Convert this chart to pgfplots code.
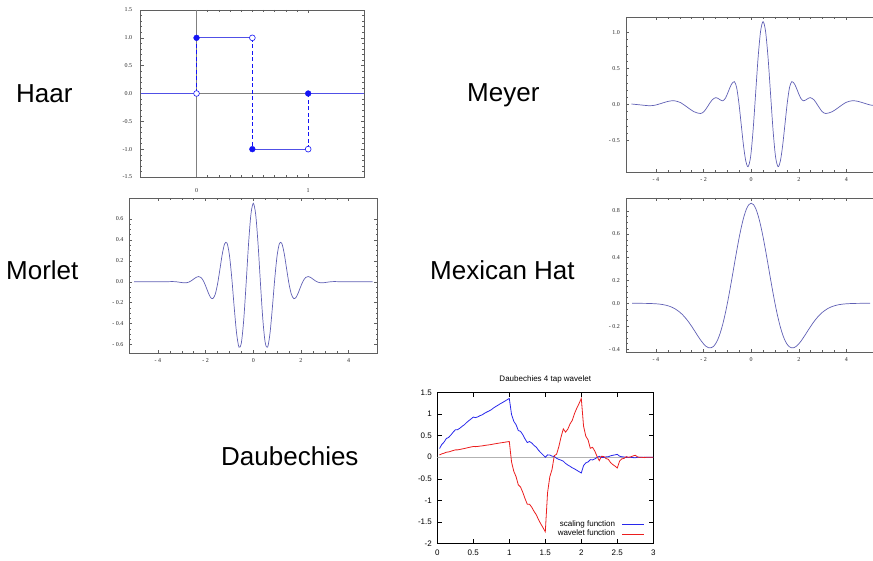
\documentclass[border=0pt]{standalone}
\usepackage{fontspec}
\setmainfont{Liberation Sans}
\newfontfamily\tickserif{Liberation Serif}
\usepackage{pgfplots}
\usepackage{pgfplotstable}
\pgfplotsset{compat=1.18}
\definecolor{mcolor}{RGB}{95,95,180}
\definecolor{hblue}{RGB}{20,20,245}
\definecolor{hline}{RGB}{80,80,230}
\definecolor{gpblue}{RGB}{40,40,235}
\definecolor{gpred}{RGB}{235,30,30}
\definecolor{framegray}{RGB}{95,95,95}

\pgfplotstableread{
x phi psi
0.03125 0.2029 0.0544
0.0625 0.297 0.0796
0.09375 0.3517 0.0942
0.125 0.435 0.1166
0.15625 0.4603 0.1233
0.1875 0.515 0.138
0.21875 0.5799 0.1554
0.25 0.637 0.1707
0.28125 0.6413 0.1718
0.3125 0.674 0.1806
0.34375 0.7178 0.1923
0.375 0.754 0.202
0.40625 0.8053 0.2158
0.4375 0.849 0.2276
0.46875 0.8903 0.2385
0.5 0.933 0.25
0.53125 0.9212 0.2468
0.5625 0.939 0.2515
0.59375 0.967 0.2592
0.625 0.987 0.2645
0.65625 1.0228 0.2741
0.6875 1.051 0.2817
0.71875 1.0763 0.2884
0.75 1.104 0.2958
0.78125 1.1458 0.3071
0.8125 1.179 0.316
0.84375 1.2099 0.3243
0.875 1.2436 0.3333
0.90625 1.272 0.3408
0.9375 1.3035 0.3493
0.96875 1.3352 0.3578
1 1.366 0.366
1.03125 0.9914 -0.1109
1.0625 0.8343 -0.3279
1.09375 0.7566 -0.4503
1.125 0.621 -0.6413
1.15625 0.6014 -0.6934
1.1875 0.5238 -0.8157
1.21875 0.4248 -0.9627
1.25 0.342 -1.0914
1.28125 0.3653 -1.0927
1.3125 0.3302 -1.1629
1.34375 0.2738 -1.2592
1.375 0.2334 -1.3373
1.40625 0.1615 -1.4517
1.4375 0.1052 -1.5487
1.46875 0.0547 -1.6381
1.5 0 -1.732
1.53125 0.0548 -0.8257
1.5625 0.0512 -0.4552
1.59375 0.026 -0.2803
1.625 0.0169 0.0372
1.65625 -0.0237 0.0683
1.6875 -0.0489 0.243
1.71875 -0.068 0.4699
1.75 -0.0915 0.6584
1.78125 -0.1435 0.5839
1.8125 -0.1798 0.6529
1.84375 -0.2105 0.7749
1.875 -0.2456 0.8583
1.90625 -0.272 1.0182
1.9375 -0.3028 1.1406
1.96875 -0.335 1.2484
2 -0.366 1.366
2.03125 -0.1943 0.7251
2.0625 -0.1313 0.4902
2.09375 -0.1082 0.4036
2.125 -0.0559 0.2085
2.15625 -0.0618 0.2306
2.1875 -0.0387 0.1443
2.21875 -0.0048 0.0178
2.25 0.0212 -0.0793
2.28125 -0.0062 0.0229
2.3125 -0.0043 0.0161
2.34375 0.0082 -0.0307
2.375 0.0128 -0.0479
2.40625 0.0331 -0.1236
2.4375 0.0457 -0.1704
2.46875 0.0553 -0.2063
2.5 0.067 -0.25
2.53125 0.024 -0.0897
2.5625 0.0102 -0.0382
2.59375 0.0071 -0.0264
2.625 -0.0039 0.0145
2.65625 0.0008 -0.0029
2.6875 -0.0023 0.0087
2.71875 -0.0084 0.0312
2.75 -0.0123 0.0458
2.78125 -0.0019 0.007
2.8125 0.0007 -0.0027
2.84375 0.0004 -0.0016
2.875 0.00225 -0.0084
2.90625 -0.0001 0.0005
2.9375 -0.0004 0.0015
2.96875 0.0001 -0.0003
3 0 0
}\daubdata

\pgfplotsset{
  mstyle/.style={
    scale only axis,
    axis line style={framegray, line width=0.5bp},
    tick align=inside,
    major tick length=3bp,
    minor tick length=1.6bp,
    tick style={framegray, line width=0.4bp},
    ticklabel style={font=\tickserif\fontsize{6bp}{7bp}\selectfont, text=black!85},
    xticklabel style={yshift=-2bp},
    yticklabel style={xshift=-2.5bp},
  },
  mline/.style={color=mcolor, line width=0.7bp, smooth, no markers},
}

\begin{document}
\begin{tikzpicture}
\path[use as bounding box] (0bp,0bp) rectangle (873bp,561bp);

% ---------- Haar ----------
\begin{axis}[mstyle, at={(140.7bp,384bp)}, anchor=south west,
  width=223.3bp, height=167bp,
  xmin=-0.5, xmax=1.5, ymin=-1.5, ymax=1.5,
  xtick={0,1}, xticklabels={0,1}, minor x tick num=9,
  ytick={-1.5,-1,...,1.5},
  yticklabels={-1.5,-1.0,-0.5,0.0,0.5,1.0,1.5},
  minor y tick num=4,
  xticklabel style={yshift=-6bp},
  yticklabel style={xshift=-2.5bp}]
\addplot[gray, line width=0.5bp] coordinates {(-0.5,0) (1.5,0)};
\addplot[gray, line width=0.5bp] coordinates {(0,-1.5) (0,1.5)};
\addplot[hline, line width=0.7bp] coordinates {(-0.5,0) (0,0)};
\addplot[hline, line width=0.7bp] coordinates {(0,1) (0.5,1)};
\addplot[hline, line width=0.7bp] coordinates {(0.5,-1) (1,-1)};
\addplot[hline, line width=0.7bp] coordinates {(1,0) (1.5,0)};
\addplot[hblue, line width=0.7bp, dash pattern=on 4bp off 2.5bp] coordinates {(0,0) (0,1)};
\addplot[hblue, line width=0.7bp, dash pattern=on 4bp off 2.5bp] coordinates {(0.5,1) (0.5,-1)};
\addplot[hblue, line width=0.7bp, dash pattern=on 4bp off 2.5bp] coordinates {(1,-1) (1,0)};
\addplot[only marks, mark=*, mark size=2.9bp, mark options={draw=hblue, fill=hblue}] coordinates {(0,1) (0.5,-1) (1,0)};
\addplot[only marks, mark=*, mark size=2.9bp, mark options={draw=hblue, fill=white, line width=0.6bp}] coordinates {(0,0) (0.5,1) (1,-1)};
\end{axis}

% ---------- Meyer ----------
\begin{axis}[mstyle, at={(626bp,389bp)}, anchor=south west,
  width=250.1bp, height=155bp,
  xmin=-5.26, xmax=5.25, ymin=-0.94, ymax=1.2125,
  xtick={-4,-2,0,2,4}, xticklabels={- 4,- 2,0,2,4}, minor x tick num=3,
  ytick={-0.5,0,0.5,1}, yticklabels={- 0.5,0.0,0.5,1.0}, minor y tick num=4]
\addplot[mline] coordinates {
(-5.03,0.004) (-4.68,-0.0075) (-4.26,-0.02) (-4.0075,-0.0097) (-3.755,0.015)
(-3.5025,0.0397) (-3.25,0.05) (-2.97,0.024) (-2.69,-0.039) (-2.41,-0.102)
(-2.13,-0.128) (-1.9675,-0.0956) (-1.805,-0.0175) (-1.6425,0.0606) (-1.48,0.093)
(-1.34,0.0705) (-1.20,0.048) (-1.0775,0.087) (-0.955,0.1815) (-0.8325,0.276)
(-0.71,0.315) (-0.613,0.236) (-0.517,0.0198) (-0.42,-0.2755) (-0.323,-0.571)
(-0.227,-0.787) (-0.13,-0.866) (-0.025,-0.731) (0.08,-0.3625) (0.185,0.141)
(0.29,0.6445) (0.395,1.013) (0.5,1.148) (0.605,1.013) (0.71,0.6445)
(0.815,0.141) (0.92,-0.3625) (1.025,-0.731) (1.13,-0.866) (1.227,-0.787)
(1.323,-0.571) (1.42,-0.2755) (1.517,0.0198) (1.613,0.236) (1.71,0.315)
(1.8325,0.276) (1.955,0.1815) (2.0775,0.087) (2.20,0.048) (2.34,0.0705)
(2.48,0.093) (2.6425,0.0606) (2.805,-0.0175) (2.9675,-0.0956) (3.13,-0.128)
(3.41,-0.102) (3.69,-0.039) (3.97,0.024) (4.25,0.05) (4.5025,0.0397)
(4.755,0.015) (5.0075,-0.0097) (5.26,-0.02)};
\end{axis}

% ---------- Morlet ----------
\begin{axis}[mstyle, at={(129.3bp,208bp)}, anchor=south west,
  width=248bp, height=155bp,
  xmin=-5.2, xmax=5.2, ymin=-0.682, ymax=0.801,
  xtick={-4,-2,0,2,4}, xticklabels={- 4,- 2,0,2,4}, minor x tick num=3,
  ytick={-0.6,-0.4,-0.2,0,0.2,0.4,0.6},
  yticklabels={- 0.6,- 0.4,- 0.2,0.0,0.2,0.4,0.6}, minor y tick num=3]
\addplot[mline] coordinates {
(-5,0) (-4.5,0) (-4,0) (-3.6,0) (-3.4,0.0016) (-3.2,-0.0014) (-3.0,-0.0082)
(-2.9,-0.0106) (-2.8,-0.0096) (-2.7,-0.0034) (-2.6,0.0089) (-2.5,0.0256)
(-2.4,0.0416) (-2.3,0.0495) (-2.2,0.0411) (-2.1,0.0111) (-2.0,-0.0393)
(-1.9,-0.0986) (-1.8,-0.1474) (-1.7,-0.1618) (-1.6,-0.1223) (-1.5,-0.0234)
(-1.4,0.1186) (-1.3,0.2647) (-1.2,0.364) (-1.1,0.3682) (-1.0,0.2524)
(-0.9,0.0288) (-0.8,-0.2476) (-0.7,-0.4947) (-0.6,-0.626) (-0.5,-0.5835)
(-0.4,-0.3611) (-0.3,-0.0138) (-0.2,0.3594) (-0.1,0.6439) (0,0.75)
(0.1,0.6439) (0.2,0.3594) (0.3,-0.0138) (0.4,-0.3611) (0.5,-0.5835)
(0.6,-0.626) (0.7,-0.4947) (0.8,-0.2476) (0.9,0.0288) (1.0,0.2524)
(1.1,0.3682) (1.2,0.364) (1.3,0.2647) (1.4,0.1186) (1.5,-0.0234)
(1.6,-0.1223) (1.7,-0.1618) (1.8,-0.1474) (1.9,-0.0986) (2.0,-0.0393)
(2.1,0.0111) (2.2,0.0411) (2.3,0.0495) (2.4,0.0416) (2.5,0.0256)
(2.6,0.0089) (2.7,-0.0034) (2.8,-0.0096) (2.9,-0.0106) (3.0,-0.0082)
(3.2,-0.0014) (3.4,0.0016) (3.6,0) (4,0) (4.5,0) (5,0)};
\end{axis}

% ---------- Mexican Hat ----------
\begin{axis}[mstyle, at={(626bp,209bp)}, anchor=south west,
  width=250.1bp, height=154bp,
  xmin=-5.26, xmax=5.25, ymin=-0.422, ymax=0.912,
  xtick={-4,-2,0,2,4}, xticklabels={- 4,- 2,0,2,4}, minor x tick num=3,
  ytick={-0.4,-0.2,0,0.2,0.4,0.6,0.8},
  yticklabels={- 0.4,- 0.2,0.0,0.2,0.4,0.6,0.8}, minor y tick num=3]
\addplot[mline] coordinates {
(-5,0) (-4.6,-0.0005) (-4.3,-0.0015) (-4.0,-0.0044) (-3.8,-0.0085) (-3.6,-0.0159)
(-3.4,-0.0283) (-3.2,-0.0479) (-3.0,-0.0771) (-2.9,-0.0959) (-2.8,-0.1177)
(-2.7,-0.1424) (-2.6,-0.17) (-2.5,-0.2) (-2.4,-0.2316) (-2.3,-0.2641)
(-2.2,-0.296) (-2.1,-0.3259) (-2.0,-0.352) (-1.9,-0.3722) (-1.8,-0.3843)
(-1.7,-0.3864) (-1.6,-0.3761) (-1.5,-0.3518) (-1.4,-0.3124) (-1.3,-0.257)
(-1.2,-0.1857) (-1.1,-0.0994) (-1.0,0) (-0.9,0.1099) (-0.8,0.2266)
(-0.7,0.3461) (-0.6,0.4635) (-0.5,0.5739) (-0.4,0.6723) (-0.3,0.7543)
(-0.2,0.8158) (-0.1,0.8541) (0,0.867) (0.1,0.8541) (0.2,0.8158) (0.3,0.7543)
(0.4,0.6723) (0.5,0.5739) (0.6,0.4635) (0.7,0.3461) (0.8,0.2266) (0.9,0.1099)
(1.0,0) (1.1,-0.0994) (1.2,-0.1857) (1.3,-0.257) (1.4,-0.3124) (1.5,-0.3518)
(1.6,-0.3761) (1.7,-0.3864) (1.8,-0.3843) (1.9,-0.3722) (2.0,-0.352)
(2.1,-0.3259) (2.2,-0.296) (2.3,-0.2641) (2.4,-0.2316) (2.5,-0.2) (2.6,-0.17)
(2.7,-0.1424) (2.8,-0.1177) (2.9,-0.0959) (3.0,-0.0771) (3.2,-0.0479)
(3.4,-0.0283) (3.6,-0.0159) (3.8,-0.0085) (4.0,-0.0044) (4.3,-0.0015)
(4.6,-0.0005) (5,0)};
\end{axis}

% ---------- Daubechies ----------
\begin{axis}[at={(437.3bp,17.7bp)}, anchor=south west, scale only axis,
  width=216bp, height=150.6bp,
  xmin=0, xmax=3, ymin=-2, ymax=1.5,
  xtick={0,0.5,...,3}, ytick={-2,-1.5,...,1.5},
  tick align=inside, major tick length=4.3bp,
  axis line style={black, line width=0.5bp},
  tick style={black, line width=0.5bp},
  ticklabel style={font=\fontsize{8bp}{9bp}\selectfont},
  /pgf/number format/assume math mode=true,
  xticklabel style={yshift=-3.5bp},
  yticklabel style={xshift=-2bp},
  title={Daubechies 4 tap wavelet},
  title style={font=\fontsize{8bp}{9bp}\selectfont, at={(0.5,1)}, anchor=south, inner sep=0pt, yshift=3.7bp},
  legend plot pos=right,
  legend cell align=right,
  legend image code/.code={\draw[#1] (0bp,0bp) -- (21.6bp,0bp);},
  legend style={at={(0.958,0.094)}, anchor=east, draw=none, fill=none,
    inner sep=0pt, font=\fontsize{8bp}{9bp}\selectfont,
    row sep=0pt, column sep=6bp,
    nodes={inner sep=0.5bp, text height=6.2bp, text depth=2.5bp}}]
\addplot[gray!60, line width=0.5bp, forget plot] coordinates {(0,0) (3,0)};
\addplot[gpblue, line width=0.8bp] table[x=x, y=phi] {\daubdata};
\addlegendentry{scaling function}
\addplot[gpred, line width=0.8bp] table[x=x, y=psi] {\daubdata};
\addlegendentry{wavelet function}
\end{axis}

% ---------- labels ----------
\begin{scope}[every node/.style={anchor=base west, inner sep=0pt, font=\fontsize{26bp}{30bp}\selectfont}]
\node at (16bp,458.3bp) {Haar};
\node at (467bp,459.5bp) {Meyer};
\node at (6bp,281bp) {Morlet};
\node at (430bp,281bp) {Mexican Hat};
\node at (221bp,95.7bp) {Daubechies};
\end{scope}
\end{tikzpicture}
\end{document}
